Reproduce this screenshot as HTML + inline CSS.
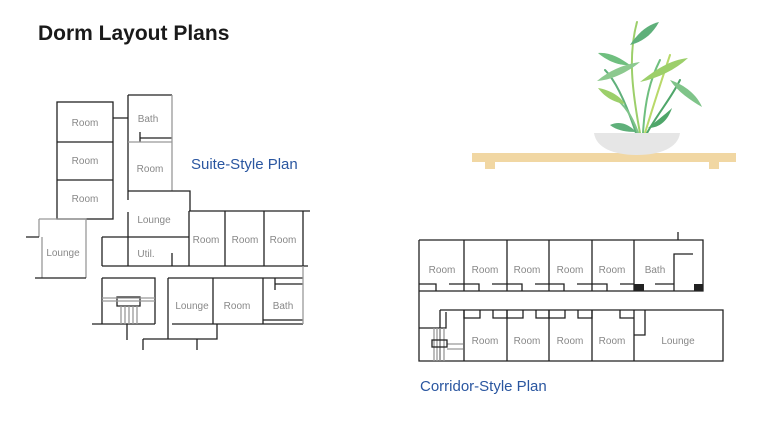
<!DOCTYPE html>
<html><head><meta charset="utf-8"><style>
body{margin:0;background:#fff}
svg{display:block}
.l{stroke:#222;stroke-width:1.3;fill:none}
.g{stroke:#999;stroke-width:1.3;fill:none}
.t{font-family:"Liberation Sans",sans-serif;font-size:10px;fill:#888;text-anchor:middle}
</style></head><body>
<svg width="776" height="448" viewBox="0 0 776 448">
<text x="38" y="40" font-family="Liberation Sans,sans-serif" font-weight="bold" font-size="21" fill="#1a1a1a">Dorm Layout Plans</text>
<text x="191" y="169" font-family="Liberation Sans,sans-serif" font-size="15" fill="#2a56a0">Suite-Style Plan</text>
<text x="420" y="391" font-family="Liberation Sans,sans-serif" font-size="15" fill="#2a56a0">Corridor-Style Plan</text>

<!-- suite plan -->
<g>
<rect class="l" x="57" y="102" width="56" height="117"/>
<path class="l" d="M57 142H113M57 180H113M113 118H128"/>
<path class="l" d="M128 95H172M128 95V200M140 132V142M140 138H172"/>
<path class="g" d="M172 95V191M128 142H172"/>
<path class="l" d="M128 191H190V211M189 211H310M102 266H308M189 211V266M225 211V266M264 211V266M303 211V266"/>
<path class="l" d="M102 237H189M102 237V266M128 212V266M172 253V266"/>
<path class="g" d="M39 219H86V278M39 219V237M42 237V278"/>
<path class="l" d="M26 237H39M35 278H86"/>
<path class="l" d="M102 278H155V324M102 278V324M92 324H155M117 297H140V306H117ZM127 324V340"/>
<path class="g" d="M102 298H155M102 301H155M121 306V324M125 306V324M129 306V324M133 306V324M137 306V324"/>
<path class="l" d="M168 278H303M168 278V339M172 324H303M213 278V324M263 278V324M275 278V290M275 284H303M263 320H303M143 339H217V324M197 339V350M143 339V350"/>
<path class="g" d="M303 266V324"/>
</g>
<g class="t">
<text x="85" y="126">Room</text><text x="85" y="164">Room</text><text x="85" y="202">Room</text>
<text x="148" y="122">Bath</text><text x="150" y="172">Room</text>
<text x="154" y="223">Lounge</text><text x="146" y="257">Util.</text>
<text x="206" y="243">Room</text><text x="245" y="243">Room</text><text x="283" y="243">Room</text>
<text x="63" y="256">Lounge</text>
<text x="192" y="309">Lounge</text><text x="237" y="309">Room</text><text x="283" y="309">Bath</text>
</g>

<!-- corridor plan -->
<g>
<path class="l" d="M419 240H703V291H419M419 240V361H723V310H440M678 232V240M464 240V291M507 240V291M549 240V291M592 240V291M634 240V291M674 291V254H693"/>
<path class="l" d="M464 310V361M507 310V361M549 310V361M592 310V361M634 310V361M634 310V335H645V310M440 310V361M419 328H446V312"/>
<path class="l" d="M419 284H436V291M449 284H464M464 284H479V291M492 284H507M507 284H522V291M535 284H549M549 284H564V291M577 284H592M592 284H607V291M620 284H634M655 284H674"/>
<path class="l" d="M464 310V318H480V310M493 310V318H507V310M507 310V318H523V310M536 310V318H549V310M549 310V318H565V310M578 310V318H592V310M620 310V318H634"/>
<rect x="634" y="284" width="10" height="7" fill="#222"/>
<rect x="694" y="284" width="9" height="7" fill="#222"/>
<path class="g" d="M434 328V361M437 328V361M440 328V361M444 328V361M447 344H463M447 349H463"/>
<rect class="l" x="432" y="340" width="15" height="7" fill="#fff"/>
</g>
<g class="t">
<text x="442" y="273">Room</text><text x="485" y="273">Room</text><text x="527" y="273">Room</text><text x="570" y="273">Room</text><text x="612" y="273">Room</text><text x="655" y="273">Bath</text>
<text x="485" y="344">Room</text><text x="527" y="344">Room</text><text x="570" y="344">Room</text><text x="612" y="344">Room</text><text x="678" y="344">Lounge</text>
</g>

<!-- shelf + plant -->
<rect x="472" y="153" width="264" height="9" fill="#f1d7a3"/>
<rect x="485" y="162" width="10" height="7" fill="#f1d7a3"/>
<rect x="709" y="162" width="10" height="7" fill="#f1d7a3"/>
<g fill="none" stroke-width="2" stroke-linecap="round">
<path d="M640 133C632 90 628 55 637 22" stroke="#9ccf6a"/>
<path d="M643 133C645 100 650 80 660 60" stroke="#6fbf7f"/>
<path d="M636 133C625 100 615 80 605 70" stroke="#5fb07a"/>
<path d="M645 133C655 100 665 70 670 55" stroke="#b9d96a"/>
<path d="M638 133C630 110 620 100 610 95" stroke="#7fc489"/>
<path d="M647 133C660 110 670 100 680 80" stroke="#4fa66a"/>
</g>
<g fill="#6fbf7f">
<path d="M630 45C640 30 650 24 659 22C652 35 642 42 630 45Z" fill="#5fb07a"/>
<path d="M598 53C610 52 620 58 630 65C618 66 606 60 598 53Z"/>
<path d="M597 81C610 70 625 64 640 62C628 72 612 80 597 81Z" fill="#8cc98f"/>
<path d="M640 82C655 70 670 60 688 58C675 70 658 78 640 82Z" fill="#9ccf6a"/>
<path d="M670 80C685 85 697 95 702 107C690 100 678 92 670 80Z" fill="#7fc489"/>
<path d="M598 88C610 90 620 96 625 104C612 102 604 96 598 88Z" fill="#9ccf6a"/>
<path d="M610 125C620 120 630 125 636 132C625 132 616 130 610 125Z" fill="#5fb07a"/>
<path d="M648 128C660 118 668 112 672 108C668 120 660 128 648 128Z" fill="#4fa66a"/>
</g>
<path d="M594 133H680C678 148 660 155 637 155C614 155 596 148 594 133Z" fill="#e6e6e6"/>
</svg>
</body></html>
